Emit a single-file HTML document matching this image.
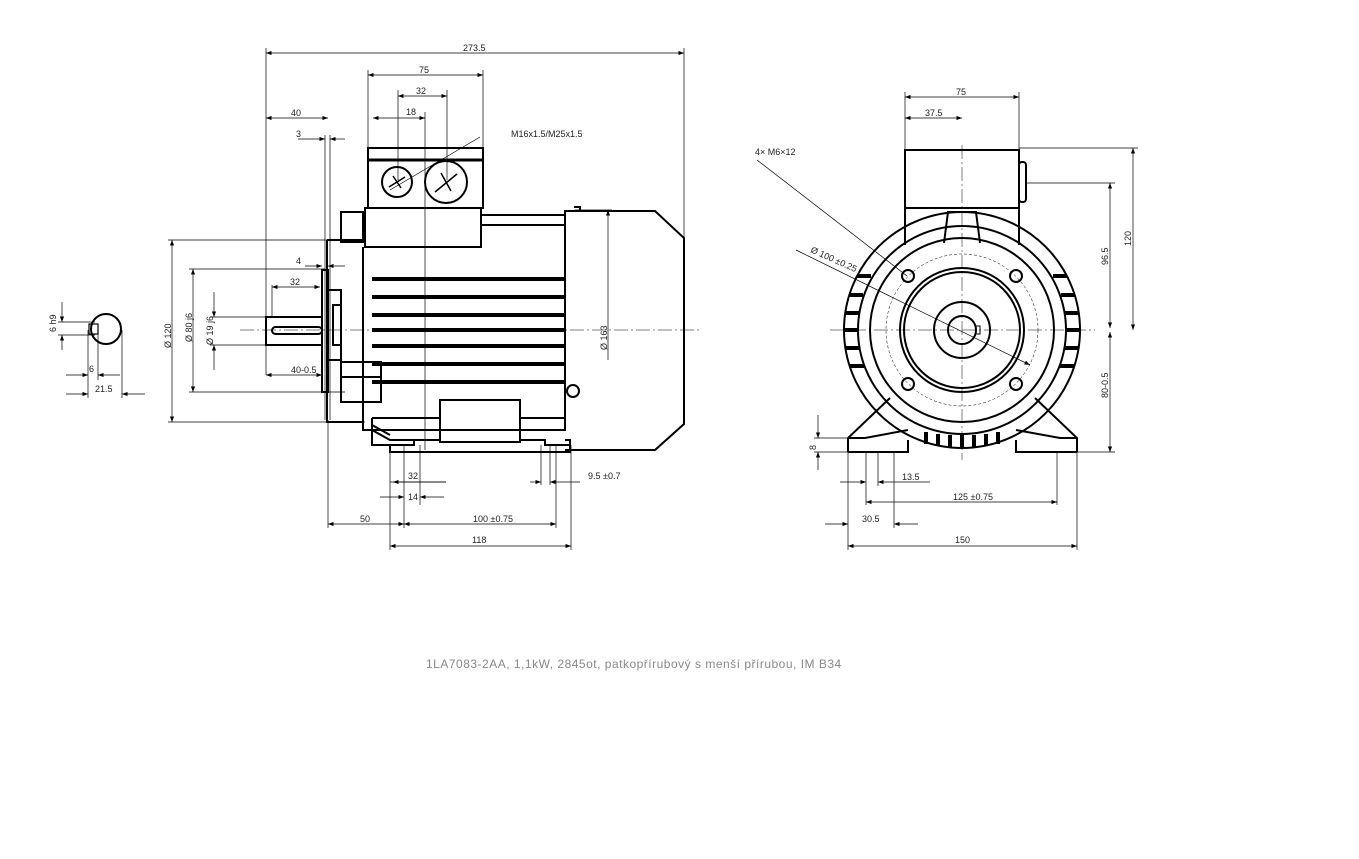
<!DOCTYPE html><html><head><style>body{margin:0;background:#fff}svg{display:block}text{font-family:"Liberation Sans",sans-serif;font-size:9px;fill:#222}</style></head><body>
<svg width="1359" height="859" viewBox="0 0 1359 859" xmlns="http://www.w3.org/2000/svg">
<defs><marker id="a" markerWidth="8" markerHeight="6" refX="8" refY="3" orient="auto-start-reverse"><path d="M0,0L8,3L0,6z" fill="#000"/></marker></defs>
<g stroke="#000" fill="none" stroke-width="0.7">
<line x1="266" y1="53" x2="684" y2="53" marker-start="url(#a)" marker-end="url(#a)"/>
<line x1="266" y1="48" x2="266" y2="375"/><line x1="684" y1="48" x2="684" y2="330"/>
<line x1="368" y1="75" x2="483" y2="75" marker-start="url(#a)" marker-end="url(#a)"/>
<line x1="368" y1="70" x2="368" y2="150"/><line x1="483" y1="70" x2="483" y2="150"/>
<line x1="398" y1="96" x2="447" y2="96" marker-start="url(#a)" marker-end="url(#a)"/>
<line x1="398" y1="90" x2="398" y2="180"/><line x1="447" y1="90" x2="447" y2="180"/>
<line x1="373" y1="118" x2="425" y2="118" marker-start="url(#a)" marker-end="url(#a)"/>
<line x1="425" y1="112" x2="425" y2="450"/>
<line x1="266" y1="118" x2="328" y2="118" marker-start="url(#a)" marker-end="url(#a)"/>
<line x1="298" y1="139" x2="325" y2="139" marker-end="url(#a)"/><line x1="345" y1="139" x2="330" y2="139" marker-end="url(#a)"/>
<line x1="325" y1="135" x2="325" y2="420"/><line x1="330" y1="135" x2="330" y2="420"/>
<line x1="305" y1="266" x2="322" y2="266" marker-end="url(#a)"/><line x1="345" y1="266" x2="328" y2="266" marker-end="url(#a)"/>
<line x1="272" y1="287" x2="320" y2="287" marker-start="url(#a)" marker-end="url(#a)"/>
<line x1="272" y1="285" x2="272" y2="317"/>
<line x1="266" y1="375" x2="322" y2="375" marker-start="url(#a)" marker-end="url(#a)"/>
<line x1="172" y1="240" x2="172" y2="422" marker-start="url(#a)" marker-end="url(#a)"/>
<line x1="168" y1="240" x2="360" y2="240"/><line x1="168" y1="422" x2="365" y2="422"/>
<line x1="193" y1="269" x2="193" y2="392" marker-start="url(#a)" marker-end="url(#a)"/>
<line x1="189" y1="269" x2="325" y2="269"/><line x1="189" y1="392" x2="345" y2="392"/>
<line x1="214" y1="292" x2="214" y2="317" marker-end="url(#a)"/><line x1="214" y1="370" x2="214" y2="345" marker-end="url(#a)"/>
<line x1="210" y1="317" x2="266" y2="317"/><line x1="210" y1="345" x2="266" y2="345"/>
<line x1="608" y1="210" x2="608" y2="360" marker-start="url(#a)"/><line x1="575" y1="210" x2="612" y2="210"/>
<line x1="480" y1="137" x2="390" y2="190"/>
<line x1="390" y1="445" x2="390" y2="550"/><line x1="404" y1="445" x2="404" y2="528"/><line x1="420" y1="445" x2="420" y2="505"/>
<line x1="556" y1="445" x2="556" y2="528"/><line x1="571" y1="445" x2="571" y2="550"/><line x1="541" y1="445" x2="541" y2="485"/><line x1="550" y1="445" x2="550" y2="485"/>
<line x1="328" y1="420" x2="328" y2="528"/>
<line x1="393" y1="482" x2="446" y2="482" marker-start="url(#a)"/><line x1="390" y1="482" x2="446" y2="482"/>
<line x1="530" y1="482" x2="541" y2="482" marker-end="url(#a)"/><line x1="580" y1="482" x2="550" y2="482" marker-end="url(#a)"/>
<line x1="380" y1="497" x2="404" y2="497" marker-end="url(#a)"/><line x1="444" y1="497" x2="420" y2="497" marker-end="url(#a)"/>
<line x1="328" y1="524" x2="404" y2="524" marker-start="url(#a)" marker-end="url(#a)"/>
<line x1="404" y1="524" x2="556" y2="524" marker-start="url(#a)" marker-end="url(#a)"/>
<line x1="390" y1="546" x2="571" y2="546" marker-start="url(#a)" marker-end="url(#a)"/>
<line x1="62" y1="302" x2="62" y2="322" marker-end="url(#a)"/><line x1="62" y1="350" x2="62" y2="335" marker-end="url(#a)"/>
<line x1="58" y1="322" x2="95" y2="322"/><line x1="58" y1="335" x2="95" y2="335"/>
<line x1="66" y1="375" x2="88" y2="375" marker-end="url(#a)"/><line x1="120" y1="375" x2="98" y2="375" marker-end="url(#a)"/>
<line x1="88" y1="330" x2="88" y2="398"/><line x1="98" y1="330" x2="98" y2="380"/><line x1="122" y1="330" x2="122" y2="398"/>
<line x1="66" y1="394" x2="88" y2="394" marker-end="url(#a)"/><line x1="145" y1="394" x2="122" y2="394" marker-end="url(#a)"/>
</g>
<g stroke="#000" fill="none" stroke-width="2">
<circle cx="106" cy="329" r="15"/><rect x="89" y="324" width="9" height="10" stroke-width="1.2"/>
<rect x="368" y="148" width="115" height="60"/><line x1="368" y1="160" x2="483" y2="160" stroke-width="3"/>
<circle cx="397" cy="182" r="15"/><circle cx="446" cy="182" r="21"/>
<rect x="365" y="208" width="116" height="39"/>
<path d="M363 247V430H565V211H655L684 238V424L655 450H565"/>
<path d="M481 215H565M481 225H565"/>
<path d="M574 207H580V211"/>
<rect x="341" y="212" width="22" height="30"/>
<path d="M327 240H363M327 240V422H363"/>
<rect x="322" y="270" width="6" height="122"/>
<rect x="328" y="290" width="13" height="70"/>
<rect x="333" y="305" width="8" height="40"/>
<rect x="266" y="317" width="56" height="28"/>
<rect x="272" y="327" width="50" height="7" rx="3.5"/>
<rect x="341" y="362" width="40" height="40"/><line x1="341" y1="377" x2="381" y2="377"/>
<rect x="440" y="400" width="80" height="42"/>
<path d="M372 418V445H390V452H570V440H565"/><path d="M390 452V445H414V440H440M520 440H545V445H571"/>
<path d="M372 418H440M520 418H565"/><path d="M372 430L390 440H414M372 425L390 435"/>
<circle cx="573" cy="391" r="6"/>
</g>
<g stroke="#000" stroke-width="4"><path d="M372 279H565M372 297H565M372 315H565M372 330H565M372 346H565M372 364H565M372 382H565"/></g>
<g stroke="#000" stroke-width="1.5"><path d="M389 187l16-10M393 176l8 12M435 192l22-18M441 173l10 18"/></g>
<line x1="240" y1="330" x2="700" y2="330" stroke="#000" stroke-width="0.5" stroke-dasharray="14,3,2,3"/>
<g stroke="#000" fill="none" stroke-width="0.7">
<line x1="905" y1="97" x2="1019" y2="97" marker-start="url(#a)" marker-end="url(#a)"/>
<line x1="905" y1="92" x2="905" y2="150"/><line x1="1019" y1="92" x2="1019" y2="150"/>
<line x1="905" y1="118" x2="962" y2="118" marker-start="url(#a)" marker-end="url(#a)"/>
<line x1="1133" y1="148" x2="1133" y2="330" marker-start="url(#a)" marker-end="url(#a)"/>
<line x1="1019" y1="148" x2="1138" y2="148"/>
<line x1="1110" y1="183" x2="1110" y2="328" marker-start="url(#a)" marker-end="url(#a)"/>
<line x1="1027" y1="183" x2="1115" y2="183"/>
<line x1="1110" y1="332" x2="1110" y2="452" marker-start="url(#a)" marker-end="url(#a)"/>
<line x1="1060" y1="452" x2="1115" y2="452"/>
<line x1="818" y1="415" x2="818" y2="438" marker-end="url(#a)"/><line x1="818" y1="470" x2="818" y2="452" marker-end="url(#a)"/>
<line x1="814" y1="438" x2="848" y2="438"/><line x1="814" y1="452" x2="848" y2="452"/>
<line x1="848" y1="452" x2="848" y2="550"/><line x1="1077" y1="452" x2="1077" y2="550"/>
<line x1="866" y1="452" x2="866" y2="505"/><line x1="878" y1="452" x2="878" y2="486"/><line x1="894" y1="452" x2="894" y2="528"/><line x1="1057" y1="452" x2="1057" y2="505"/>
<line x1="840" y1="482" x2="866" y2="482" marker-end="url(#a)"/><line x1="930" y1="482" x2="878" y2="482" marker-end="url(#a)"/>
<line x1="866" y1="502" x2="1057" y2="502" marker-start="url(#a)" marker-end="url(#a)"/>
<line x1="825" y1="524" x2="848" y2="524" marker-end="url(#a)"/><line x1="918" y1="524" x2="894" y2="524" marker-end="url(#a)"/>
<line x1="848" y1="546" x2="1077" y2="546" marker-start="url(#a)" marker-end="url(#a)"/>
<line x1="757" y1="160" x2="907" y2="276"/>
<line x1="796" y1="250" x2="1030" y2="365" marker-end="url(#a)"/>
<circle cx="962" cy="330" r="76" stroke-dasharray="3,2" stroke-width="0.5"/>
</g>
<g stroke="#000" fill="none" stroke-width="2">
<rect x="905" y="150" width="114" height="58"/>
<path d="M905 208V245M1019 208V245"/>
<rect x="1019" y="162" width="7" height="40" rx="3"/>
<path d="M944 243L948 212H976L980 243"/>
<circle cx="962" cy="330" r="118"/>
<circle cx="962" cy="330" r="104"/>
<circle cx="962" cy="330" r="92"/>
<circle cx="962" cy="330" r="62"/><circle cx="962" cy="330" r="58"/>
<circle cx="962" cy="330" r="28"/><circle cx="962" cy="330" r="14"/>
<rect x="976" y="326" width="4" height="8" stroke-width="1"/>
<circle cx="908" cy="276" r="6"/><circle cx="1016" cy="276" r="6"/><circle cx="908" cy="384" r="6"/><circle cx="1016" cy="384" r="6"/>
<path d="M848 452V438L890 398M908 430L865 438H848M1077 452V438L1035 398M1016 430L1060 438H1077"/>
<path d="M848 452H908V440M1077 452H1016V440"/>
</g>
<g stroke="#000" stroke-width="4"><path d="M857 276h14M849 295h14M845 313h14M844 330h14M845 348h14M850 366h14M1053 276h14M1061 295h14M1065 313h14M1066 330h14M1065 348h14M1060 366h14M926 432v12M938 434v12M950 435v12M962 435v12M974 435v12M986 434v12M998 432v12"/></g>
<g stroke="#000" stroke-width="0.5" stroke-dasharray="14,3,2,3"><line x1="830" y1="330" x2="1095" y2="330"/><line x1="962" y1="145" x2="962" y2="460"/></g>
<g>
<text x="463" y="51">273.5</text><text x="419" y="73">75</text><text x="416" y="94">32</text><text x="406" y="115">18</text>
<text x="291" y="116">40</text><text x="296" y="137">3</text><text x="296" y="264">4</text><text x="290" y="285">32</text><text x="291" y="373">40-0.5</text>
<text x="511" y="137">M16x1.5/M25x1.5</text>
<text x="408" y="479">32</text><text x="408" y="500">14</text><text x="360" y="522">50</text><text x="473" y="522">100 ±0.75</text><text x="472" y="543">118</text><text x="588" y="479">9.5 ±0.7</text>
<text x="89" y="372">6</text><text x="95" y="392">21.5</text>
<text x="956" y="95">75</text><text x="925" y="116">37.5</text><text x="755" y="155">4× M6×12</text>
<text x="902" y="480">13.5</text><text x="953" y="500">125 ±0.75</text><text x="862" y="522">30.5</text><text x="955" y="543">150</text>
<text transform="translate(171,348) rotate(-90)">Ø 120</text><text transform="translate(192,342) rotate(-90)">Ø 80 j6</text><text transform="translate(213,345) rotate(-90)">Ø 19 j6</text>
<text transform="translate(607,350) rotate(-90)">Ø 163</text><text transform="translate(56,332) rotate(-90)">6 h9</text>
<text transform="translate(1131,246) rotate(-90)">120</text><text transform="translate(1108,265) rotate(-90)">96.5</text><text transform="translate(1108,398) rotate(-90)">80-0.5</text><text transform="translate(816,450) rotate(-90)">8</text>
<text transform="translate(810,252) rotate(24)">Ø 100 ±0.25</text>
<text x="426" y="668" style="font-size:12px;fill:#888;letter-spacing:0.5px">1LA7083-2AA,  1,1kW, 2845ot, patkopřírubový s menší přírubou, IM B34</text>
</g>
</svg></body></html>
